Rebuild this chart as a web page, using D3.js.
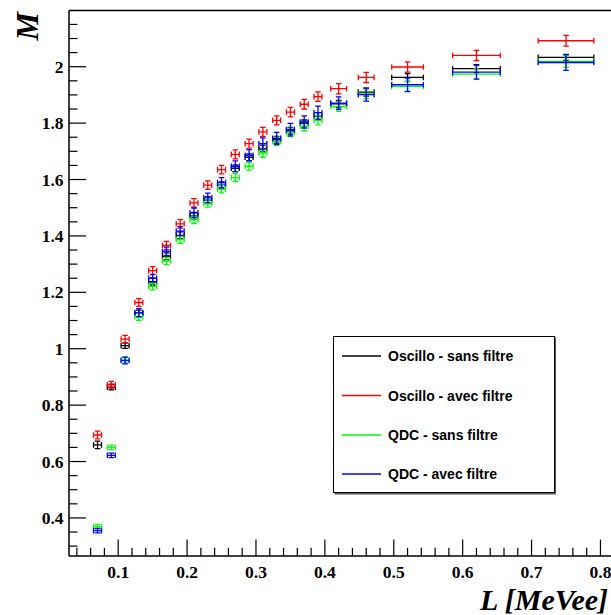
<!DOCTYPE html>
<html>
<head>
<meta charset="utf-8">
<script src="https://cdn.jsdelivr.net/npm/d3@7"></script>
<style>
  html, body { margin: 0; padding: 0; background: #fff; }
  svg { display: block; }
</style>
</head>
<body>
<svg id="chart" width="611" height="615"></svg>
<script>
// ---------- data ----------
const xValues = [0.07,0.09,0.11,0.13,0.15,0.17,0.19,0.21,0.23,0.25,0.27,0.29,0.31,0.33,0.35,0.37,0.39,0.42,0.46,0.52,0.62,0.75];
const xErrors = [0.0058,0.0058,0.0058,0.0058,0.0058,0.0058,0.0058,0.0058,0.0058,0.0058,0.0058,0.0058,0.0058,0.0058,0.0058,0.0058,0.0058,0.0115,0.0115,0.023,0.0346,0.0404];

const oscilloSans = [0.659,0.864,1.011,1.125,1.238,1.328,1.402,1.471,1.527,1.580,1.640,1.679,1.710,1.741,1.773,1.799,1.824,1.868,1.910,1.962,1.993,2.033];
const oscilloSansErr = [0.013,0.010,0.010,0.012,0.012,0.012,0.012,0.012,0.012,0.012,0.012,0.012,0.012,0.012,0.012,0.012,0.013,0.013,0.014,0.014,0.014,0.011];

const oscilloAvec = [0.694,0.872,1.034,1.164,1.277,1.366,1.443,1.517,1.580,1.635,1.689,1.727,1.769,1.810,1.839,1.867,1.894,1.922,1.962,1.999,2.040,2.092];
const oscilloAvecErr = [0.014,0.012,0.013,0.014,0.014,0.015,0.015,0.015,0.015,0.015,0.016,0.016,0.016,0.016,0.017,0.017,0.017,0.018,0.018,0.018,0.018,0.019];

const qdcSans = [0.369,0.650,0.960,1.113,1.221,1.311,1.387,1.457,1.515,1.566,1.607,1.647,1.694,1.735,1.767,1.789,1.810,1.859,1.904,1.930,1.974,2.019];
const qdcSansErr = [0.008,0.008,0.011,0.012,0.012,0.013,0.013,0.013,0.013,0.013,0.014,0.014,0.015,0.015,0.015,0.016,0.016,0.017,0.017,0.017,0.018,0.021];

const qdcAvec = [0.355,0.622,0.958,1.128,1.250,1.345,1.417,1.482,1.535,1.589,1.647,1.686,1.727,1.746,1.777,1.804,1.837,1.871,1.901,1.936,1.981,2.015];
const qdcAvecErr = [0.008,0.008,0.012,0.014,0.014,0.015,0.016,0.017,0.017,0.018,0.019,0.020,0.021,0.021,0.022,0.022,0.023,0.022,0.023,0.024,0.025,0.028];

const seriesNames = ["Oscillo - sans filtre","Oscillo - avec filtre","QDC - sans filtre","QDC - avec filtre"];
const seriesColors = ["#000000","#ff0000","#00ff00","#0000ff"];

const xMajorTicks = [0.1,0.2,0.3,0.4,0.5,0.6,0.7,0.8];
const xTickLabels = ["0.1","0.2","0.3","0.4","0.5","0.6","0.7","0.8"];
const yMajorTicks = [0.4,0.6,0.8,1.0,1.2,1.4,1.6,1.8,2.0];
const yTickLabels = ["0.4","0.6","0.8","1","1.2","1.4","1.6","1.8","2"];

const xTitle = "L [MeVee]";
const yTitle = "M";

// ---------- layout ----------
const svg = d3.select("#chart");
const frameLeft = 69, frameTop = 10.6, frameBottom = 556;
const x = d3.scaleLinear().domain([0.0286, 0.85]).range([frameLeft, 634.9]);
const y = d3.scaleLinear().domain([0.265, 2.199]).range([frameBottom, frameTop]);

svg.append("rect").attr("width", 611).attr("height", 615).attr("fill", "#fff");

const series = [
  {vals: oscilloSans, errs: oscilloSansErr},
  {vals: oscilloAvec, errs: oscilloAvecErr},
  {vals: qdcSans, errs: qdcSansErr},
  {vals: qdcAvec, errs: qdcAvecErr}
];

// ---------- data marks ----------
const cap = 2.8;
const plot = svg.append("g").attr("fill", "none").attr("stroke-width", 1.3);
series.forEach((s, si) => {
  const g = plot.append("g").attr("stroke", seriesColors[si]);
  xValues.forEach((xv, i) => {
    const cx = x(xv), cy = y(s.vals[i]);
    const x0 = x(xv - xErrors[i]), x1 = x(xv + xErrors[i]);
    const y0 = y(s.vals[i] - s.errs[i]), y1 = y(s.vals[i] + s.errs[i]);
    const p = d3.path();
    p.moveTo(x0, cy); p.lineTo(x1, cy);
    p.moveTo(cx, y0); p.lineTo(cx, y1);
    p.moveTo(x0, cy - cap); p.lineTo(x0, cy + cap);
    p.moveTo(x1, cy - cap); p.lineTo(x1, cy + cap);
    p.moveTo(cx - cap, y0); p.lineTo(cx + cap, y0);
    p.moveTo(cx - cap, y1); p.lineTo(cx + cap, y1);
    g.append("path").attr("d", p.toString());
  });
});

// ---------- axes ----------
const axes = svg.append("g").attr("stroke", "#000");
axes.append("line").attr("x1", frameLeft).attr("x2", 640).attr("y1", frameTop).attr("y2", frameTop).attr("stroke-width", 1.5);
axes.append("line").attr("x1", frameLeft).attr("x2", frameLeft).attr("y1", frameTop).attr("y2", frameBottom).attr("stroke-width", 1.5);
axes.append("line").attr("x1", frameLeft).attr("x2", 640).attr("y1", frameBottom).attr("y2", frameBottom).attr("stroke-width", 1.5);

// x ticks
const xMinor = d3.range(0.04, 0.86, 0.02).map(v => +v.toFixed(2));
xMinor.forEach(v => {
  const isMajor = xMajorTicks.some(m => Math.abs(m - v) < 1e-6);
  axes.append("line").attr("x1", x(v)).attr("x2", x(v))
    .attr("y1", frameBottom).attr("y2", frameBottom - (isMajor ? 16.4 : 8.2)).attr("stroke-width", 1.2);
});
// y ticks
const yMinor = d3.range(0.3, 2.19, 0.05).map(v => +v.toFixed(2));
yMinor.forEach(v => {
  const isMajor = yMajorTicks.some(m => Math.abs(m - v) < 1e-6);
  axes.append("line").attr("x1", frameLeft).attr("x2", frameLeft + (isMajor ? 17 : 8.5))
    .attr("y1", y(v)).attr("y2", y(v)).attr("stroke-width", 1.2);
});

// tick labels
const labelFont = "'Liberation Serif', 'Times New Roman', serif";
svg.append("g").selectAll("text").data(xMajorTicks).join("text")
  .attr("x", d => x(d)).attr("y", 578)
  .attr("text-anchor", "middle")
  .attr("font-family", labelFont).attr("font-weight", "bold").attr("font-size", 17.5)
  .text((d, i) => xTickLabels[i]);

svg.append("g").selectAll("text").data(yMajorTicks).join("text")
  .attr("x", 63.5).attr("y", d => y(d) + 6)
  .attr("text-anchor", "end")
  .attr("font-family", labelFont).attr("font-weight", "bold").attr("font-size", 17.5)
  .text((d, i) => yTickLabels[i]);

// axis titles
svg.append("text")
  .attr("x", 608).attr("y", 610)
  .attr("text-anchor", "end")
  .attr("font-family", labelFont).attr("font-weight", "bold").attr("font-style", "italic")
  .attr("font-size", 30)
  .text(xTitle);

svg.append("text")
  .attr("transform", "translate(37.5,12) rotate(-90)")
  .attr("text-anchor", "end")
  .attr("font-family", labelFont).attr("font-weight", "bold").attr("font-style", "italic")
  .attr("font-size", 32)
  .text(yTitle);

// ---------- legend ----------
const lg = svg.append("g");
lg.append("rect").attr("x", 334.5).attr("y", 337.5).attr("width", 221.5).attr("height", 157)
  .attr("fill", "#555").attr("stroke", "none");
lg.append("rect").attr("x", 333.5).attr("y", 336.5).attr("width", 221).attr("height", 156)
  .attr("fill", "#fff").attr("stroke", "#000").attr("stroke-width", 1);
const legendY = [356, 395.5, 435, 474];
seriesNames.forEach((name, i) => {
  lg.append("line").attr("x1", 342).attr("x2", 381)
    .attr("y1", legendY[i]).attr("y2", legendY[i])
    .attr("stroke", seriesColors[i]).attr("stroke-width", 1.5);
  lg.append("text").attr("x", 388).attr("y", legendY[i] + 5)
    .attr("font-family", "'Liberation Sans', Arial, sans-serif").attr("font-weight", "bold")
    .attr("font-size", 14)
    .text(name);
});
</script>
</body>
</html>
